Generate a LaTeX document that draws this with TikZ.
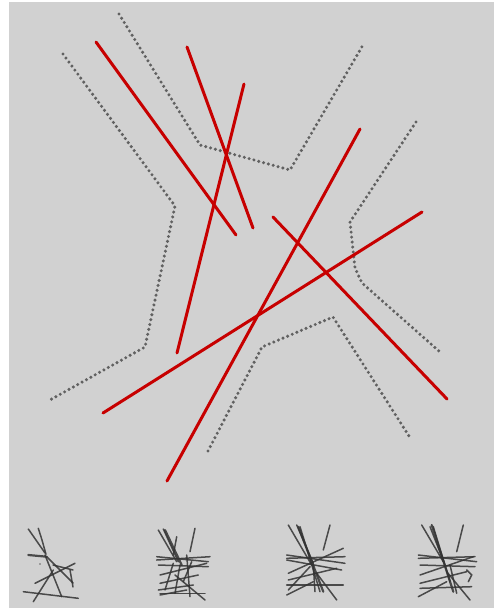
\documentclass[tikz,border=0pt]{standalone}
\begin{document}
\begin{tikzpicture}[x=1pt,y=-1pt,
  redline/.style={draw=red!78!black, line width=3pt, line cap=round},
  dotline/.style={draw=black!62, line width=3.4pt, line cap=round, dash pattern=on 0pt off 5pt},
  thin/.style={draw=black!80, line width=1.5pt, line cap=round, opacity=0.85}]
\useasboundingbox (0,0) rectangle (494,610);
\fill[white] (0,0) rectangle (494,610);
\fill[gray!36] (9,2) rectangle (494,608);
% dotted boundaries
\draw[dotline] (63,54) -- (175,206) -- (145,347) -- (50,400);
\draw[dotline] (119,14) -- (200,145) -- (290,170) -- (363,45);
\draw[dotline] (416,122) -- (350,222) -- (355,268) -- (362,283) -- (440,352);
\draw[dotline] (208,451) -- (262,347) -- (333,317) -- (409,436);
% red lines
\draw[redline] (96,42) -- (236,235);
\draw[redline] (187,47) -- (253,228);
\draw[redline] (244,84) -- (177,353);
\draw[redline] (360,129) -- (167,481);
\draw[redline] (422,212) -- (103,413);
\draw[redline] (273,217) -- (447,399);
% thumbnail 1
\draw[thin] (28.3,529) -- (45,553);
\draw[thin] (38.3,528.3) -- (42,540) -- (46,554.3);
\draw[thin, line width=2.2pt] (28.3,555) -- (46.7,556.7);
\draw[thin] (45,555) -- (61.7,596.7);
\draw[thin] (47,557) -- (73,583);
\draw[thin] (35,583.3) -- (75,563.3);
\draw[thin] (23.3,591.7) -- (78.3,598.3);
\draw[thin] (33.3,601.7) -- (53.3,570);
\draw[thin] (70,570) -- (73,587);
\draw[thin] (53,565) -- (73,570);
\fill[black!60] (40,564) circle (0.8pt);
% thumbnail 2
\draw[thin] (158.3,530) -- (176.7,561.7);
\draw[thin] (163.3,529) -- (178.3,561.7);
\draw[thin, line width=2.2pt] (165,530) -- (181.7,565);
\draw[thin] (176.7,536.7) -- (173.3,555);
\draw[thin] (195,528.3) -- (190,551.7);
\draw[thin] (156.7,556.7) -- (208.3,561.7);
\draw[thin] (156.7,560) -- (210,556.7);
\draw[thin] (158.3,565) -- (208.3,566.7);
\draw[thin] (160,575) -- (206.7,563.3);
\draw[thin] (160,583.3) -- (198.3,575);
\draw[thin] (158.3,590) -- (193.3,585);
\draw[thin] (160,595) -- (186.7,590);
\draw[thin] (175,575) -- (205,600);
\draw[thin] (180,565) -- (175,593.3);
\draw[thin] (186.7,555) -- (190,596.7);
\draw[thin] (173.3,563.3) -- (165,590);
\draw[thin] (191.7,561.7) -- (183.3,581.7);
\draw[thin] (160,593.3) -- (205,593.3);
% thumbnail 3
\draw[thin] (288.3,525) -- (311.7,565);
\draw[thin] (296.7,525) -- (313.3,563.3);
\draw[thin, line width=2.2pt] (298.3,526.7) -- (323.3,591.7);
\draw[thin] (300,526.7) -- (320,591.7);
\draw[thin] (330,525) -- (323.3,550);
\draw[thin] (286.7,555) -- (345,563.3);
\draw[thin] (286.7,558.3) -- (345,556.7);
\draw[thin] (286.7,560) -- (341.7,570);
\draw[thin] (288.3,573.3) -- (343.3,548.3);
\draw[thin] (288.3,580) -- (336.7,568.3);
\draw[thin] (286.7,585) -- (343.3,585);
\draw[thin] (286.7,595) -- (313.3,581.7);
\draw[thin] (288.3,590) -- (310,566.7);
\draw[thin] (316.7,573.3) -- (336.7,600);
\draw[thin] (313.3,565) -- (315,591.7);
% thumbnail 4
\draw[thin] (421.7,525) -- (443.3,561.7);
\draw[thin] (430,526.7) -- (445,565);
\draw[thin, line width=2.2pt] (431.7,525) -- (453.3,591.7);
\draw[thin] (433.3,526.7) -- (450,581.7);
\draw[thin] (463.3,525) -- (456.7,551.7);
\draw[thin] (418.3,555) -- (476.7,561.7);
\draw[thin] (418.3,558.3) -- (475,556.7);
\draw[thin] (420,565) -- (475,566.7);
\draw[thin] (420,575) -- (473.3,556.7);
\draw[thin] (420,583.3) -- (466.7,571.7);
\draw[thin] (418.3,596.7) -- (446.7,581.7);
\draw[thin] (420,588.3) -- (471.7,586.7);
\draw[thin] (450,565) -- (456.7,593.3);
\draw[thin] (446.7,571.7) -- (470,600);
\draw[thin] (466.7,570) -- (471.7,575) -- (468.3,581.7);
\end{tikzpicture}
\end{document}
